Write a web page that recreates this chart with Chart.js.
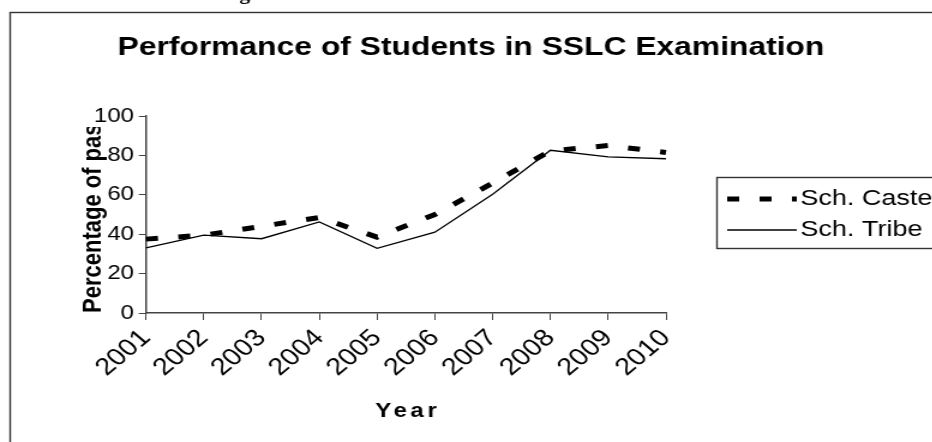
<!DOCTYPE html>
<html>
<head>
<meta charset="utf-8">
<script src="https://cdn.jsdelivr.net/npm/chart.js@4"></script>
<style>
html,body{margin:0;padding:0;background:#fff;overflow:hidden;width:932px;height:442px;}
#wrap{width:777px;height:442px;transform:scaleX(1.2);transform-origin:0 0;}
canvas{display:block;background:#fff;}
</style>
</head>
<body>
<div id="wrap"><canvas id="c" width="777" height="442"></canvas></div>
<script>
const years = ['2001','2002','2003','2004','2005','2006','2007','2008','2009','2010'];
const schCaste = [37.5, 39.5, 44, 48.5, 38.5, 50, 66, 82.3, 85, 81.5];
const schTribe = [33, 39.5, 37.7, 46.2, 32.8, 41, 60.3, 82.6, 79.3, 78.3];
const yTicks = [0, 20, 40, 60, 80, 100];
const chartTitle = 'Performance of Students in SSLC Examination';
const xTitle = 'Year';
const yTitle = 'Percentage of pass';
const seriesNames = ['Sch. Caste', 'Sch. Tribe'];

const FONT = 'Arial, "Liberation Sans", sans-serif';

const decor = {
  id: 'decor',
  afterDraw(chart) {
    const ctx = chart.ctx;
    const ca = chart.chartArea;
    ctx.save();
    // cut-off heading fragment at very top
    ctx.fillStyle = '#000';
    ctx.font = 'bold 18px "Liberation Serif", serif';
    ctx.textAlign = 'center';
    ctx.textBaseline = 'alphabetic';
    ctx.fillText('g', 204, 0);
    // outer border
    ctx.strokeStyle = '#333';
    ctx.lineWidth = 1.4;
    ctx.strokeRect(8.5, 12.5, 1000, 1000);
    // title
    ctx.fillStyle = '#000';
    ctx.font = 'bold 26.5px ' + FONT;
    ctx.textAlign = 'center';
    ctx.textBaseline = 'alphabetic';
    ctx.fillText(chartTitle, 392.5, 55);
    // x title
    ctx.font = 'bold 20px ' + FONT;
    ctx.textBaseline = 'middle';
    if ('letterSpacing' in ctx) ctx.letterSpacing = '3px';
    ctx.fillText(xTitle, (ca.left + ca.right) / 2 + 1.5, 411);
    if ('letterSpacing' in ctx) ctx.letterSpacing = '0px';
    ctx.restore();

    // y title (clipped at top like the original)
    ctx.save();
    ctx.beginPath();
    ctx.rect(0, 127, 777, 315);
    ctx.clip();
    ctx.translate(78, ca.bottom);
    ctx.rotate(-Math.PI / 2);
    ctx.fillStyle = '#000';
    ctx.font = 'bold 22px ' + FONT;
    ctx.textAlign = 'left';
    ctx.textBaseline = 'middle';
    ctx.fillText(yTitle, 0, 0);
    ctx.restore();

    // legend
    ctx.save();
    ctx.strokeStyle = '#333';
    ctx.lineWidth = 1.4;
    ctx.strokeRect(597.5, 177.5, 300, 71);
    const rows = [199, 230];
    chart.data.datasets.forEach((ds, i) => {
      const y = rows[i];
      ctx.save();
      ctx.strokeStyle = ds.borderColor;
      ctx.lineWidth = ds.borderWidth;
      ctx.setLineDash(ds.borderDash || []);
      ctx.beginPath();
      ctx.moveTo(606, y);
      ctx.lineTo(664, y);
      ctx.stroke();
      ctx.restore();
      ctx.fillStyle = '#000';
      ctx.font = '22.5px ' + FONT;
      ctx.textAlign = 'left';
      ctx.textBaseline = 'middle';
      ctx.fillText(ds.label, 667, y);
    });
    ctx.restore();
  }
};

new Chart(document.getElementById('c'), {
  type: 'line',
  data: {
    labels: years,
    datasets: [
      {
        label: seriesNames[0],
        data: schCaste,
        borderColor: '#000',
        borderWidth: 5,
        borderDash: [10, 17],
        pointRadius: 0,
        tension: 0,
        fill: false
      },
      {
        label: seriesNames[1],
        data: schTribe,
        borderColor: '#000',
        borderWidth: 1.3,
        pointRadius: 0,
        tension: 0,
        fill: false
      }
    ]
  },
  options: {
    responsive: false,
    devicePixelRatio: 1,
    animation: false,
    layout: { padding: { left: 0, right: 222, top: 116, bottom: 0 } },
    plugins: {
      legend: { display: false },
      title: { display: false },
      tooltip: { enabled: false }
    },
    scales: {
      x: {
        type: 'category',
        offset: false,
        grid: { display: true, drawOnChartArea: false, drawTicks: true, tickLength: 7, color: '#444', lineWidth: 1 },
        border: { display: true, color: '#444', width: 1.5 },
        ticks: { color: '#000', font: { family: FONT, size: 24 }, minRotation: 45, maxRotation: 45, autoSkip: false, padding: 4 },
        afterFit(s) { s.height = 129; }
      },
      y: {
        min: 0,
        max: 100,
        afterBuildTicks(s) { s.ticks = yTicks.map(v => ({ value: v })); },
        grid: { display: true, drawOnChartArea: false, drawTicks: true, tickLength: 6, color: '#444', lineWidth: 1 },
        border: { display: true, color: '#444', width: 1.5 },
        ticks: { color: '#000', font: { family: FONT, size: 20 }, padding: 4 },
        afterFit(s) { s.width = 121.7; }
      }
    }
  },
  plugins: [decor]
});
</script>
</body>
</html>
